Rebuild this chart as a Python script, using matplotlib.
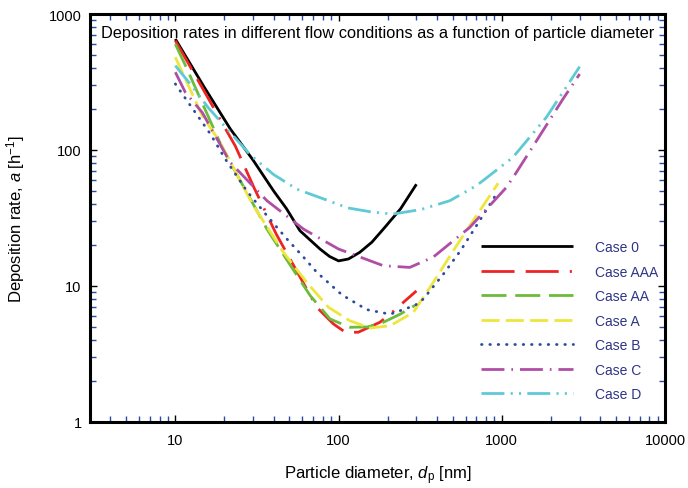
import matplotlib
matplotlib.use('Agg')
import matplotlib.pyplot as plt
from matplotlib.ticker import LogLocator, FuncFormatter, NullFormatter

plt.rcParams['font.family'] = ['Liberation Sans', 'DejaVu Sans']
plt.rcParams['mathtext.fontset'] = 'custom'
plt.rcParams['mathtext.rm'] = 'Liberation Sans'
plt.rcParams['mathtext.it'] = 'Liberation Sans:italic'
plt.rcParams['lines.scale_dashes'] = False

# ---------------- data ----------------
d_case0 = [10, 15, 21.7, 30, 40, 48, 58, 77, 88, 100, 115, 135, 160, 188, 240, 300]
a_case0 = [655, 291, 143, 84, 50, 37, 25.5, 18.7, 16.5, 15.3, 15.8, 17.7, 21, 26.2, 37, 56]

d_caseAAA = [10, 12.9, 16, 19, 23.3, 30.4, 41.5, 55, 73.6, 93, 110, 132, 179, 207, 250, 300]
a_caseAAA = [636, 373, 237, 164, 107, 52.6, 24.1, 13.1, 6.97, 5.26, 4.57, 4.57, 5.41, 6.2, 7.6, 9.2]

d_caseAA = [10, 11.8, 14.6, 19.3, 24, 30, 36.4, 45, 55, 67, 88.7, 117, 150, 179, 238, 294]
a_caseAA = [601, 394, 222, 105, 65, 40, 26.2, 17.7, 12.2, 8.5, 5.72, 4.97, 5.0, 5.26, 6.2, 7.2]

d_caseA = [10, 12, 14.6, 18.8, 24, 30.1, 37, 45.9, 64, 86.7, 117, 156, 207, 287, 380, 528, 700, 950]
a_caseA = [481, 299, 179, 114, 65, 38.9, 26.5, 17.7, 10.6, 6.97, 5.56, 4.91, 5.1, 6.4, 10.6, 19.8, 32.9, 57]

d_caseB = [10, 11.8, 13.9, 16.4, 20.2, 27.4, 36.4, 48.2, 61, 73.6, 105, 149, 207, 294, 330, 438, 559, 700, 942]
a_caseB = [306, 230, 174, 131, 86, 50, 32.9, 22.2, 16.3, 12.6, 8.6, 6.7, 6.2, 7.2, 8.0, 12.2, 18.2, 27.8, 48.9]

d_caseC = [10, 11.5, 14.6, 21.7, 36.4, 61, 100, 188, 273, 380, 637, 1069, 1230, 1706, 2370, 3000]
a_caseC = [373, 266, 189, 81, 42.4, 26.2, 18.7, 14.1, 13.7, 16.3, 27, 53.2, 68.6, 127, 237, 362]

d_caseD = [10, 12.5, 15.9, 20.2, 28.8, 40, 55.4, 80, 114, 160, 215, 320, 481, 700, 1167, 1876, 3000]
a_caseD = [417, 300, 205, 148, 92, 66, 51.6, 43.9, 37.5, 35, 33.8, 36.5, 42.4, 54.7, 88, 174, 410]

labels = ['Case 0', 'Case AAA', 'Case AA', 'Case A', 'Case B', 'Case C', 'Case D']
colors = ['#000000', '#ee2424', '#6dbb3c', '#eee63c', '#2c4a9e', '#b04ea6', '#5ecad6']

title = 'Deposition rates in different flow conditions as a function of particle diameter'
xlabel = 'Particle diameter, $d_\\mathrm{p}$ [nm]'
ylabel = 'Deposition rate, $a$ [h$^{-1}$]'

# ---------------- figure ----------------
fig = plt.figure(figsize=(6.88, 4.89), dpi=100)
ax = fig.add_axes([90 / 688, 1 - 423 / 489, 575 / 688, 408 / 489])

series = [(d_case0, a_case0), (d_caseAAA, a_caseAAA), (d_caseAA, a_caseAA),
          (d_caseA, a_caseA), (d_caseB, a_caseB), (d_caseC, a_caseC), (d_caseD, a_caseD)]
dashes = [None,
          [23.8, 8, 23.8, 8, 1.5, 8],
          [18, 6.3],
          [13, 4.5],
          [0.4, 5.6],
          [16.5, 5, 1.2, 5],
          [16.5, 4.5, 1.5, 4.5, 1.5, 4.5]]

for (d, a), lab, col, ds in zip(series, labels, colors, dashes):
    line, = ax.plot(d, a, color=col, lw=2.0, label=lab, solid_capstyle='butt',
                    solid_joinstyle='round')
    if ds is not None:
        line.set_dashes(ds)
        line.set_dash_capstyle('round' if lab == 'Case B' else 'butt')

ax.set_xscale('log')
ax.set_yscale('log')
ax.set_xlim(3, 10000)
ax.set_ylim(1, 1000)

ax.xaxis.set_major_locator(LogLocator(base=10, numticks=10))
ax.yaxis.set_major_locator(LogLocator(base=10, numticks=10))
ax.xaxis.set_minor_locator(LogLocator(base=10, subs=range(2, 10), numticks=20))
ax.yaxis.set_minor_locator(LogLocator(base=10, subs=range(2, 10), numticks=20))
fmt = FuncFormatter(lambda v, p: '%d' % round(v))
ax.xaxis.set_major_formatter(fmt)
ax.yaxis.set_major_formatter(fmt)
ax.xaxis.set_minor_formatter(NullFormatter())
ax.yaxis.set_minor_formatter(NullFormatter())

ax.tick_params(which='both', direction='in', top=True, right=True, labelsize=10.5)
ax.tick_params(which='major', length=5, width=1.0, color='black')
ax.tick_params(which='minor', length=4, width=1.0, color='#2c4a9e')
ax.tick_params(axis='x', which='major', pad=8)
ax.tick_params(axis='y', which='major', pad=6)

for sp in ax.spines.values():
    sp.set_linewidth(2.2)
    sp.set_color('black')

ax.set_xlabel(xlabel, fontsize=12, labelpad=12)
ax.set_ylabel(ylabel, fontsize=12, labelpad=16)

ax.text(0.5, 0.955, title, transform=ax.transAxes, ha='center', va='center', fontsize=11.8)

leg = ax.legend(loc='upper left', bbox_to_anchor=((481 - 90) / 575, (423 - 241) / 408),
                frameon=False, fontsize=10, handlelength=6.6, handletextpad=1.6,
                labelspacing=0.76, borderpad=0, borderaxespad=0)
for t in leg.get_texts():
    t.set_color('#2d3585')

fig.savefig('out.png', dpi=100)
